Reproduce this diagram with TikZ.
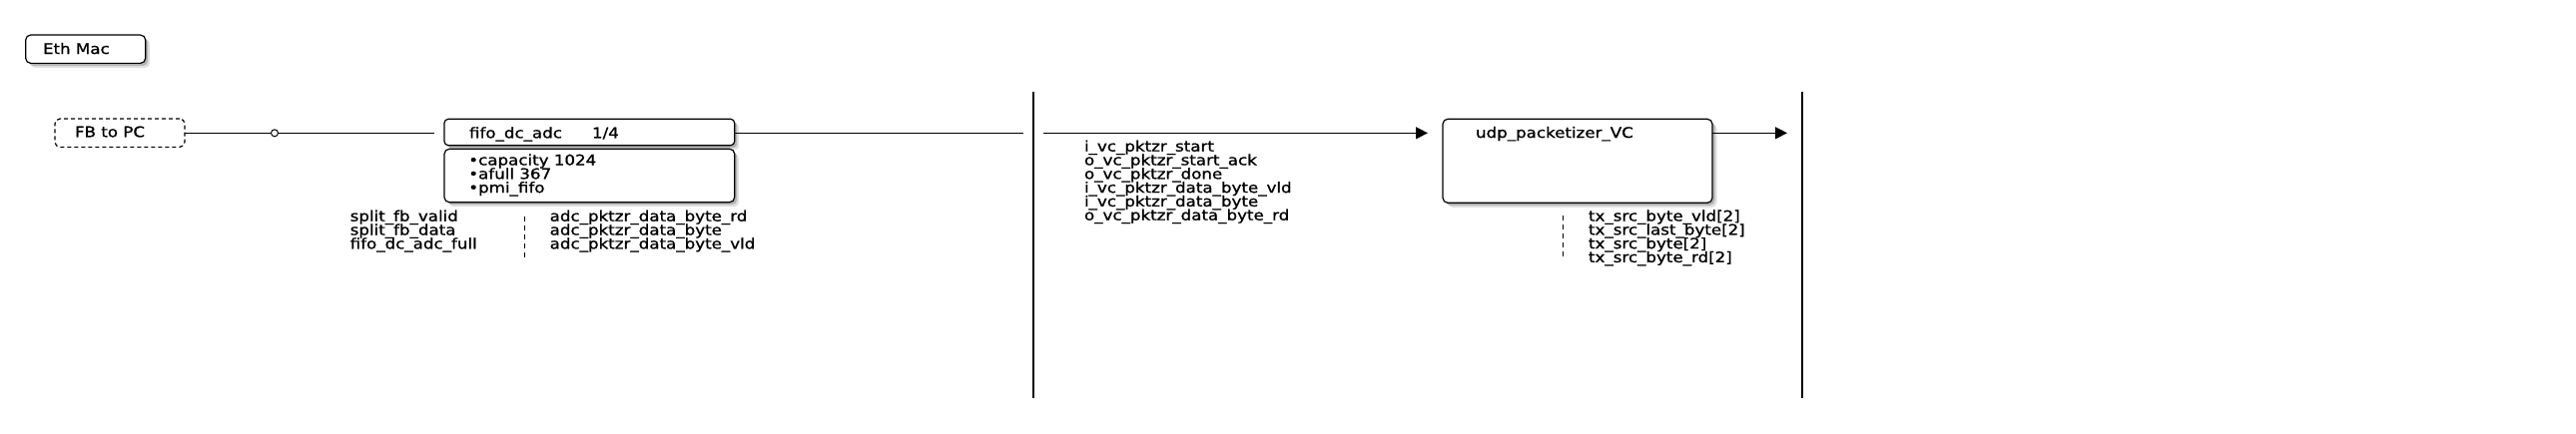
\documentclass[tikz,border=0pt]{standalone}
\usepackage{fontspec}
\setmainfont{DejaVu Sans}[FakeStretch=1.15,FakeBold=1]
\usetikzlibrary{arrows.meta,shadows}
\newcommand{\sigstack}[1]{\vtop{\baselineskip=13.8pt\lineskiplimit=-100pt\lineskip=0pt #1}}
\begin{document}
\begin{tikzpicture}[x=1pt,y=-1pt,
  every node/.style={inner sep=0pt, outer sep=0pt, font=\fontsize{14.5}{13.8}\selectfont},
  box/.style={draw, line width=1.2pt, rounded corners=5pt},
  shad/.style={
    drop shadow={fill=black, opacity=0.12, shadow xshift=4.5pt, shadow yshift=-4.5pt},
    drop shadow={fill=black, opacity=0.2, shadow xshift=2.5pt, shadow yshift=-2.5pt}},
  lbl/.style={anchor=base west},
  conn/.style={line width=1.2pt},
  tip/.style={-{Triangle[length=12pt,width=12pt]}},
  dashv/.style={line width=1.4pt, dash pattern=on 5pt off 4pt},
]
\useasboundingbox[fill=white] (0,0) rectangle (2580,434);

% Eth Mac
\node[box, shad, fill=white, minimum width=120pt, minimum height=28.3pt] (eth) at (85.7,49.2) {};
\node[lbl] (ethl) at (43,54) {Eth Mac};

% FB to PC
\node[box, dash pattern=on 4pt off 3pt, minimum width=130pt, minimum height=28.3pt] (fb) at (120,133.2) {};
\node[lbl] (fbl) at (75,137.3) {FB to PC};

% fifo header and body
\node[minimum width=290.7pt, minimum height=26.4pt] (fh) at (590.35,132.5) {};
\draw[line width=1.2pt, shad, fill=white, rounded corners=4pt] (fh.south west) rectangle (fh.north east);
\node[minimum width=290.7pt, minimum height=53.4pt] (fbody) at (590.35,176) {};
\draw[line width=1.2pt, shad, fill=white, rounded corners=5pt] (fbody.south west) rectangle (fbody.north east);
\node[lbl] (fhl) at (470,138.3) {fifo\_dc\_adc};
\node[lbl] (fhn) at (593,138.3) {1/4};
\node[lbl] (fbl2) at (469.3,165.5) {\sigstack{\hbox{•capacity 1024}\hbox{•afull 367}\hbox{•pmi\_fifo}}};

% signals under fifo
\node[lbl] (s1) at (350.7,221.7) {\sigstack{\hbox{split\_fb\_valid}\hbox{split\_fb\_data}\hbox{fifo\_dc\_adc\_full}}};
\node[lbl] (s2) at (550.7,221.7) {\sigstack{\hbox{adc\_pktzr\_data\_byte\_rd}\hbox{adc\_pktzr\_data\_byte}\hbox{adc\_pktzr\_data\_byte\_vld}}};
\coordinate (d1a) at (525.5,216.7);
\coordinate (d1b) at (525.5,259);
\draw[dashv] (d1a) -- (d1b);

% connectors left
\node[circle, draw, fill=white, line width=1pt, minimum size=7pt] (ring) at (275,133.3) {};
\coordinate (c1) at (435,133.3);
\draw[conn] (fb.east |- ring) -- (ring.west);
\draw[conn] (ring.east) -- (c1);
\coordinate (c2) at (1025,133.3);
\draw[conn] (fh.east |- c2) -- (c2);

% vertical separator 1
\coordinate (v1t) at (1035,91.7);
\coordinate (v1b) at (1035,399.3);
\draw[conn] (v1t) -- (v1b);

% udp packetizer
\node[box, shad, fill=white, minimum width=270pt, minimum height=84pt] (udp) at (1580,161.3) {};
\node[lbl] (udpl) at (1478,138) {udp\_packetizer\_VC};
\coordinate (a1) at (1045,133.3);
\coordinate (a1e) at (1430,133.3);
\draw[conn, tip] (a1) -- (a1e);
\coordinate (a2e) at (1790,133.3);
\draw[conn, tip] (udp.east |- a2e) -- (a2e);

\node[lbl] (vcs) at (1086,151.7) {\sigstack{\hbox{i\_vc\_pktzr\_start}\hbox{o\_vc\_pktzr\_start\_ack}\hbox{o\_vc\_pktzr\_done}\hbox{i\_vc\_pktzr\_data\_byte\_vld}\hbox{i\_vc\_pktzr\_data\_byte}\hbox{o\_vc\_pktzr\_data\_byte\_rd}}};

\node[lbl] (txs) at (1591,221.5) {\sigstack{\hbox{tx\_src\_byte\_vld[2]}\hbox{tx\_src\_last\_byte[2]}\hbox{tx\_src\_byte[2]}\hbox{tx\_src\_byte\_rd[2]}}};
\coordinate (d2a) at (1565.5,216);
\coordinate (d2b) at (1565.5,260);
\draw[dashv] (d2a) -- (d2b);

% vertical separator 2
\coordinate (v2t) at (1805,91.7);
\coordinate (v2b) at (1805,399);
\draw[conn] (v2t) -- (v2b);
\end{tikzpicture}
\end{document}
